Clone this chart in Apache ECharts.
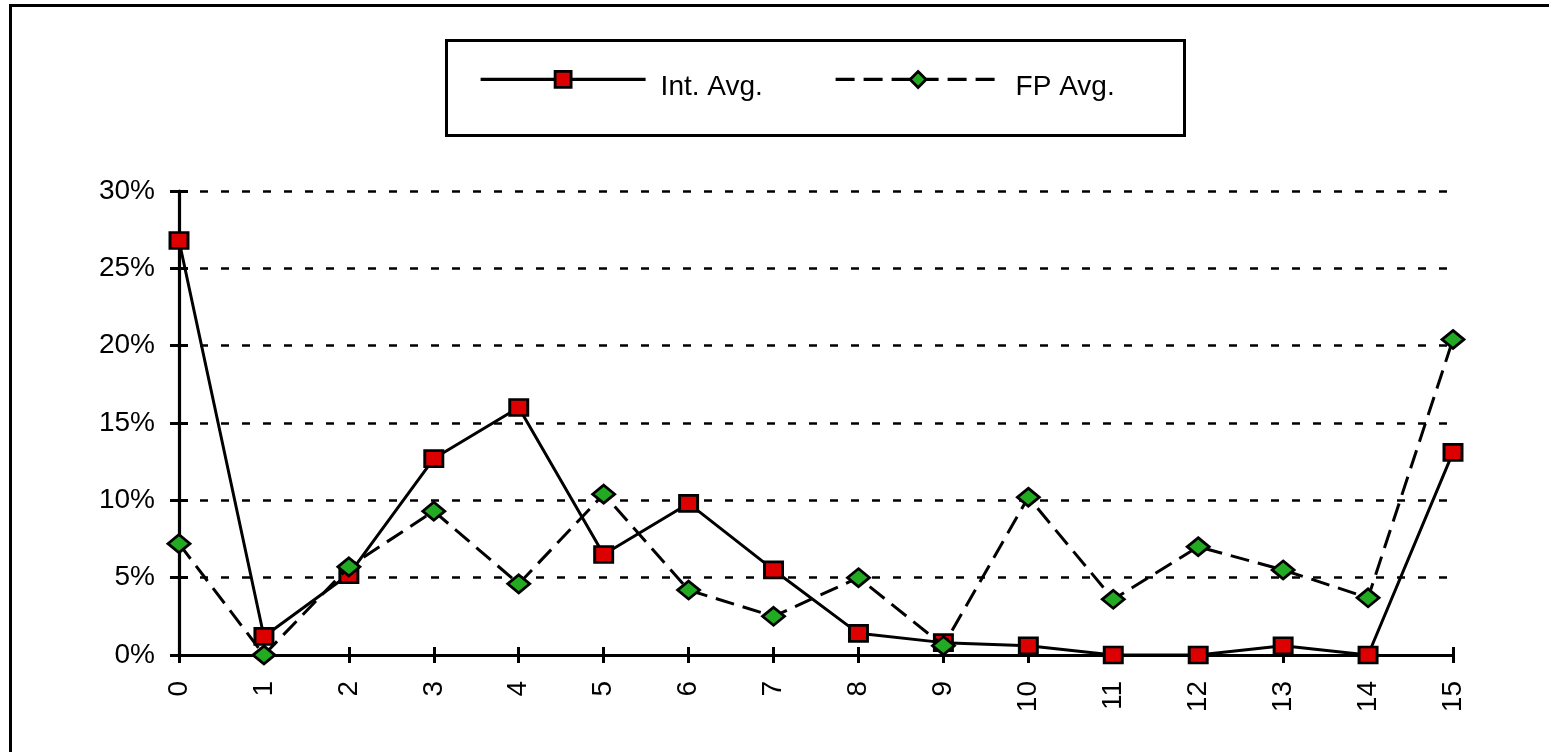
<!DOCTYPE html>
<html>
<head>
<meta charset="utf-8">
<script src="https://cdn.jsdelivr.net/npm/echarts@6/dist/echarts.min.js"></script>
<style>html,body{margin:0;padding:0;background:#fff;}#c{width:1549px;height:752px;}</style>
</head>
<body>
<div id="c"></div>
<script>
const categories = ['0','1','2','3','4','5','6','7','8','9','10','11','12','13','14','15'];
const intAvg = [26.8, 1.2, 5.2, 12.7, 16.0, 6.5, 9.8, 5.5, 1.4, 0.8, 0.6, 0.0, 0.0, 0.6, 0.0, 13.1];
const fpAvg  = [7.2, 0.0, 5.7, 9.3, 4.6, 10.4, 4.2, 2.5, 5.0, 0.6, 10.2, 3.6, 7.0, 5.5, 3.7, 20.4];
const yTicks = [0, 5, 10, 15, 20, 25, 30];

const FONT = '"Liberation Sans", Arial, sans-serif';
const chart = echarts.init(document.getElementById('c'), null, {renderer: 'canvas'});

const legendCommon = {
  orient: 'horizontal',
  padding: 0,
  itemWidth: 165,
  itemHeight: 20,
  formatter: '{t|{name}}',
  lineStyle: {width: 3.2},
  itemStyle: {borderWidth: 2.8},
  textStyle: {
    fontFamily: FONT, fontSize: 28, color: '#000', padding: [0, 0, 0, 10],
    rich: {t: {fontFamily: FONT, fontSize: 28, color: '#000', padding: [16, 0, 0, 0]}}
  },
  selectedMode: false
};

chart.setOption({
  animation: false,
  backgroundColor: '#fff',
  graphic: [
    {type: 'rect', shape: {x: 10.5, y: 5.5, width: 1600, height: 800}, style: {fill: 'none', stroke: '#000', lineWidth: 3}, silent: true, z: 0},
    {type: 'rect', shape: {x: 446.5, y: 40.5, width: 738, height: 95}, style: {fill: 'none', stroke: '#000', lineWidth: 3}, silent: true, z: 0}
  ],
  legend: [
    Object.assign({data: ['Int. Avg.'], left: 479, top: 70}, legendCommon),
    Object.assign({data: ['FP Avg.'], left: 834, top: 70}, legendCommon)
  ],
  grid: {left: 179, right: 96, top: 191, bottom: 97, containLabel: false},
  xAxis: [
    {
      type: 'category', data: categories, boundaryGap: false,
      axisLine: {lineStyle: {color: '#000', width: 3.2}},
      axisTick: {show: true, inside: false, length: 8, lineStyle: {color: '#000', width: 3}},
      axisLabel: {rotate: 90, margin: 26, fontFamily: FONT, fontSize: 28, color: '#000'},
      splitLine: {show: false}
    },
    {
      type: 'category', data: categories, boundaryGap: false, position: 'bottom',
      axisLine: {show: false},
      axisTick: {show: true, inside: true, length: 8, lineStyle: {color: '#000', width: 3}},
      axisLabel: {show: false},
      splitLine: {show: false}
    }
  ],
  yAxis: [
    {
      type: 'value', min: yTicks[0], max: yTicks[yTicks.length - 1], interval: 5,
      axisLine: {show: true, lineStyle: {color: '#000', width: 3.2}},
      axisTick: {show: true, inside: false, length: 9, lineStyle: {color: '#000', width: 3}},
      axisLabel: {margin: 24, fontFamily: FONT, fontSize: 28, color: '#000', formatter: '{value}%'},
      splitLine: {show: true, lineStyle: {color: '#000', width: 2.6, type: [8, 13]}}
    },
    {
      type: 'value', min: yTicks[0], max: yTicks[yTicks.length - 1], interval: 5, position: 'left',
      axisLine: {show: false},
      axisTick: {show: true, inside: true, length: 9, lineStyle: {color: '#000', width: 3}},
      axisLabel: {show: false},
      splitLine: {show: false}
    }
  ],
  series: [
    {
      name: 'Int. Avg.', type: 'line', data: intAvg, xAxisIndex: 0, yAxisIndex: 0,
      symbol: 'rect', symbolSize: [18, 16],
      lineStyle: {color: '#000', width: 3, type: 'solid'},
      itemStyle: {color: '#dd0000', borderColor: '#000', borderWidth: 2.8},
      z: 3
    },
    {
      name: 'FP Avg.', type: 'line', data: fpAvg, xAxisIndex: 0, yAxisIndex: 0,
      symbol: 'diamond', symbolSize: [22, 18],
      lineStyle: {color: '#000', width: 3, type: [19, 9]},
      itemStyle: {color: '#22aa22', borderColor: '#000', borderWidth: 2.8},
      z: 4
    }
  ]
});
</script>
</body>
</html>
